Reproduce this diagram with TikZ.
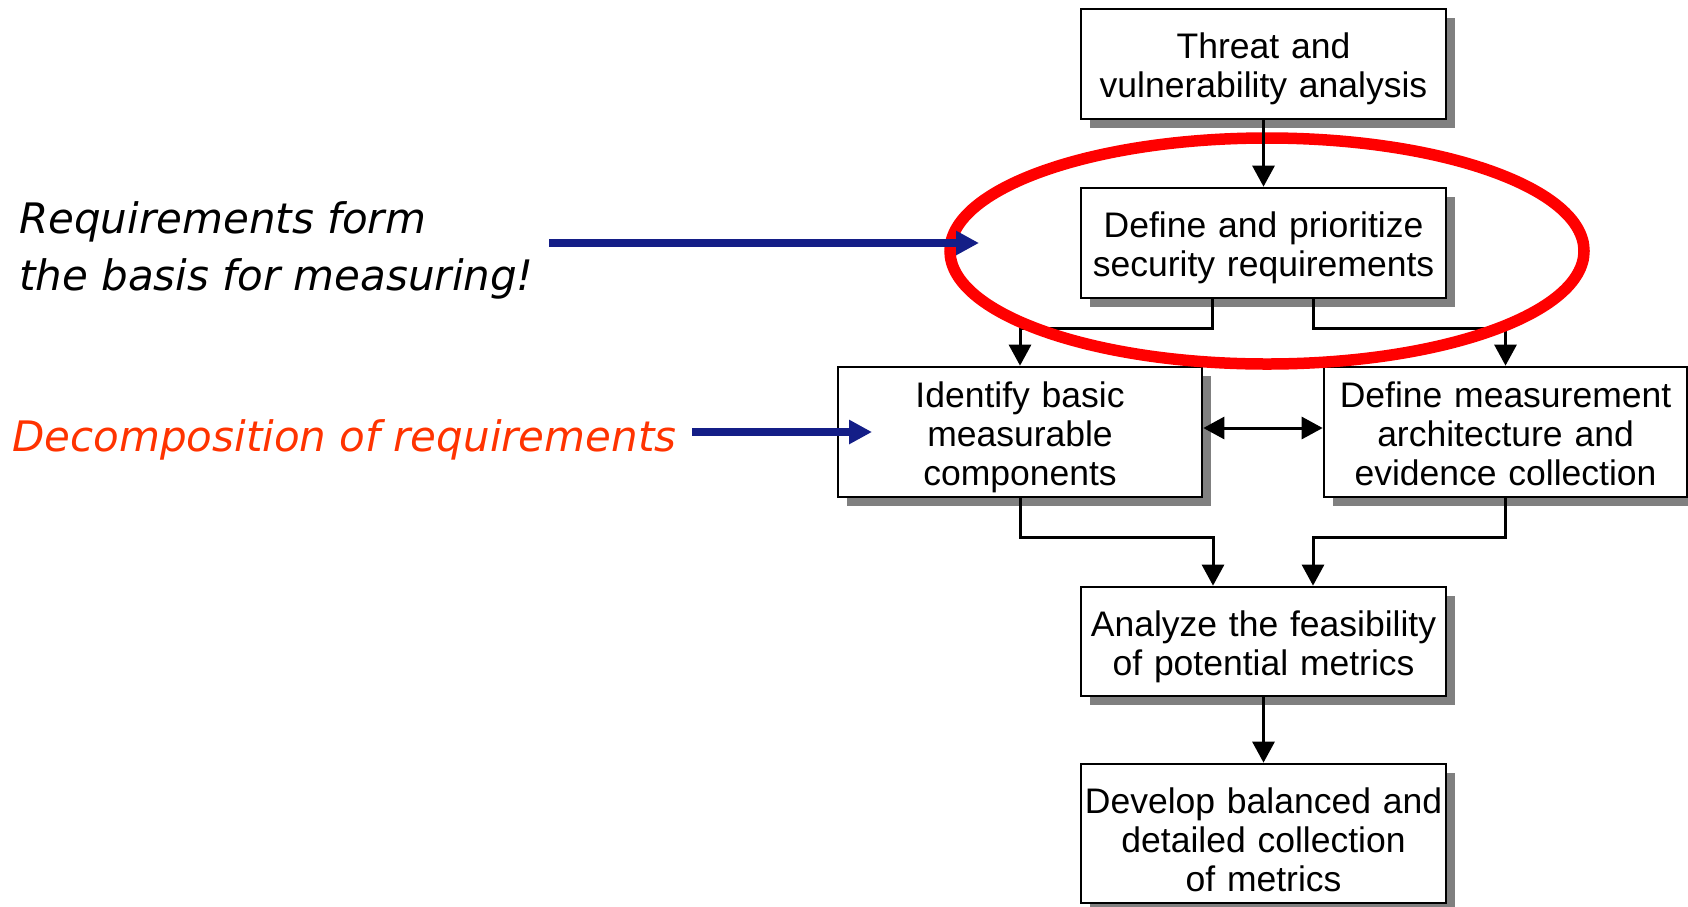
\documentclass[tikz,border=0pt]{standalone}
\usepackage{fontspec}
\newfontfamily\boxfont{Liberation Sans}
\newfontfamily\notefont{DejaVu Sans}
\usetikzlibrary{arrows.meta,shadows}
\definecolor{navyarrow}{RGB}{20,30,135}
\definecolor{decomp}{RGB}{255,51,0}
\definecolor{shadowgray}{RGB}{128,128,128}
\newcommand{\topstrut}[1]{\rule{0pt}{#1}}
\newcommand{\botstrut}{\rule[-7.5pt]{0pt}{7.5pt}}
\begin{document}
\begin{tikzpicture}[x=1pt,y=-1pt,
  stepbox/.style={draw=black, line width=2.7pt, fill=white, inner xsep=0pt, inner ysep=0pt,
    align=center, text width=365pt, font={\boxfont\fontsize{35.5}{39}\selectfont},
    drop shadow={shadow xshift=9pt, shadow yshift=-9pt, fill=shadowgray, opacity=1}},
  conn/.style={draw=black, line width=3pt, -{Triangle[width=22pt,length=21pt]}},
  dconn/.style={draw=black, line width=3pt, {Triangle[width=22pt,length=21pt]}-{Triangle[width=22pt,length=21pt]}},
  note/.style={inner sep=0pt, font={\notefont\itshape\fontsize{42}{57}\selectfont}},
  bluearrow/.style={draw=navyarrow, line width=8pt, -{Triangle[width=23pt,length=23pt]}}]
\useasboundingbox (0,0) rectangle (1688,906);
\fill[white] (0,0) rectangle (1688,906);

% boxes
\node[stepbox, minimum height=110pt] (b1) at (1263.5,64)
  {\topstrut{36pt}Threat and\\vulnerability analysis\botstrut};
\node[stepbox, minimum height=110pt] (b2) at (1263.5,243)
  {\topstrut{36pt}Define and prioritize\\security requirements\botstrut};
\node[stepbox, text width=364pt, minimum height=130pt] (b3) at (1020,432)
  {\topstrut{36pt}Identify basic\\measurable\\components\botstrut};
\node[stepbox, text width=363pt, minimum height=130pt] (b4) at (1505.5,432)
  {\topstrut{36pt}Define measurement\\architecture and\\evidence collection\botstrut};
\node[stepbox, minimum height=109pt] (b5) at (1263.5,641.5)
  {\topstrut{36pt}Analyze the feasibility\\of potential metrics\botstrut};
\node[stepbox, minimum height=139pt] (b6) at (1263.5,833.5)
  {\topstrut{45.5pt}Develop balanced and\\detailed collection\\of metrics\botstrut};

% connectors
\draw[conn] ([xshift=-51pt]b2.south) -- ++(0,29) -| (b3.north);
\draw[conn] ([xshift=49.5pt]b2.south) -- ++(0,29) -| (b4.north);
\draw[dconn] ([yshift=4pt]b3.east) -- ([yshift=4pt]b4.west);
\draw[conn] (b3.south) -- ++(0,39) -| ([xshift=-50.5pt]b5.north);
\draw[conn] (b4.south) -- ++(0,39) -| ([xshift=49.5pt]b5.north);
\draw[conn] (b5.south) -- (b6.north);

% red ellipse
\draw[red, line width=11.5pt] (1267,251) ellipse [x radius=317pt, y radius=113pt];
\draw[conn] (b1.south) -- (b2.north);

% notes
\node[note, anchor=base west] (r1) at (19,233) {Requirements form};
\node[note, anchor=base west] (r2) at (19,290) {the basis for measuring!};
\node[note, anchor=base west, text=decomp] (d1) at (12,451) {Decomposition of requirements};

% blue arrows
\coordinate (a1s) at (549,243);
\coordinate (a1e) at (979,243);
\coordinate (a2s) at (692,432);
\coordinate (a2e) at (872,432);
\draw[bluearrow] (a1s) -- (a1e);
\draw[bluearrow] (a2s) -- (a2e);
\end{tikzpicture}
\end{document}
